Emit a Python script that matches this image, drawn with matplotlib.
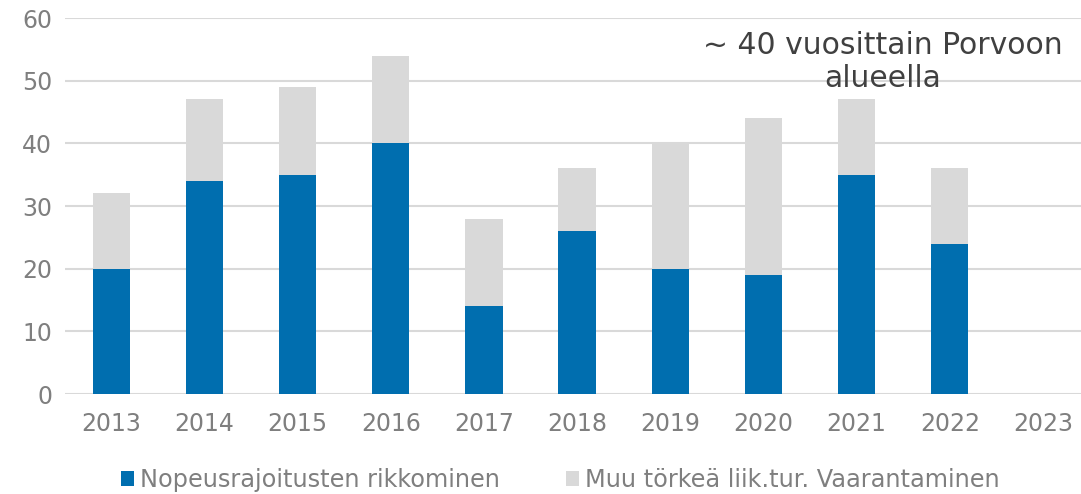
import numpy as np
import matplotlib.pyplot as plt

years = ['2013', '2014', '2015', '2016', '2017', '2018', '2019', '2020', '2021', '2022', '2023']
nopeus = [20, 34, 35, 40, 14, 26, 20, 19, 35, 24, 0]
muu = [12, 13, 14, 14, 14, 10, 20, 25, 12, 12, 0]

blue = '#006EAF'
grey = '#D9D9D9'
txt = '#7F7F7F'

fig = plt.figure(figsize=(10.81, 4.94), dpi=100)
ax = fig.add_axes([64.6 / 1081, 100 / 494, 1025 / 1081, 376 / 494])

x = np.arange(len(years))
ax.bar(x, nopeus, width=0.4, color=blue, label='Nopeusrajoitusten rikkominen', zorder=3)
ax.bar(x, muu, width=0.4, bottom=nopeus, color=grey, label='Muu törkeä liik.tur. Vaarantaminen', zorder=3)

ax.set_xlim(-0.5, len(years) - 0.5)
ax.set_ylim(0, 60)
ax.set_yticks(range(0, 61, 10))
ax.set_xticks(x)
ax.set_xticklabels(years)
ax.yaxis.grid(True, color=grey, linewidth=1.5, zorder=0)
for s in ax.spines.values():
    s.set_visible(False)
ax.tick_params(axis='both', length=0, labelsize=17, labelcolor=txt)
ax.tick_params(axis='x', pad=13)
ax.tick_params(axis='y', pad=9)

# note in the upper right
ax.text(8.28, 53.0, '~ 40 vuosittain Porvoon\nalueella', ha='center', va='center',
        fontsize=21.5, color='#404040', linespacing=1.17, zorder=4)

fig.legend(loc='center', bbox_to_anchor=(0.5186, 0.028), ncol=2, frameon=False,
           fontsize=17.3, labelcolor=txt, handlelength=0.55, handleheight=0.55,
           handletextpad=0.25, columnspacing=2.75)

fig.savefig('out.png', dpi=100)
